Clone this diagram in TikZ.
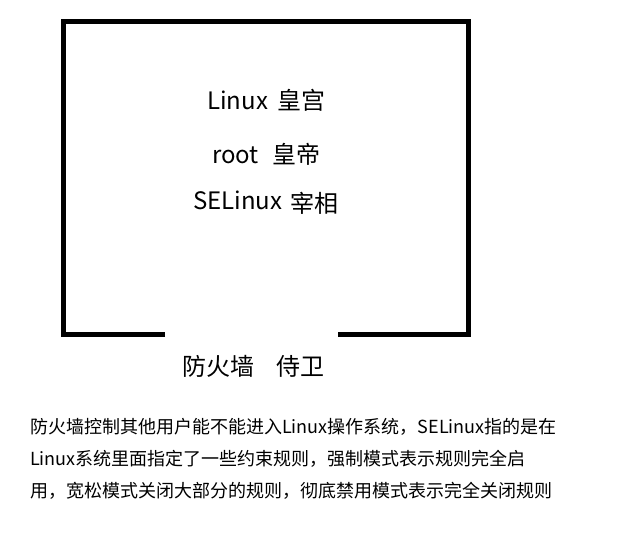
\documentclass[tikz,border=0pt]{standalone}
\usepackage{fontspec}
\setmainfont{Noto Sans CJK SC}
\usepackage{xcolor}
\definecolor{wallblack}{HTML}{000000}
\definecolor{textblack}{HTML}{000000}
\tikzset{
  wall/.style={draw=wallblack,line width=5pt,line join=miter},
  bigtext/.style={anchor=base west,inner sep=0pt,text=textblack,font=\fontsize{24}{28}\selectfont},
  para/.style={anchor=base west,inner sep=0pt,text=textblack,font=\fontsize{18}{22}\selectfont}
}

\begin{document}
\begin{tikzpicture}[x=1pt,y=-1pt]
\useasboundingbox (0,0) rectangle (619,539);
% palace walls, open at the gate
\coordinate (gateL) at (165,334.5); \coordinate (gateR) at (338,334.5);
\draw[wall] (gateL)--(63.5,334.5)--(63.5,21.5)--(468.5,21.5)--(468.5,334.5)--(gateR);
% inside the palace
\node[bigtext] (linux) at (207,109) {Linux};
\node[bigtext] (palace) at (277,109) {皇宫};
\node[bigtext] (root) at (212,163) {root};
\node[bigtext] (emperor) at (272,163) {皇帝};
\node[bigtext] (selinux) at (193,209) {SELinux};
\node[bigtext] (minister) at (290,212) {宰相};
% at the gate
\node[bigtext] (firewall) at (182,375) {防火墙};
\node[bigtext] (guard) at (276,375) {侍卫};
% explanation
\foreach \txt [count=\i] in {{防火墙控制其他用户能不能进入Linux操作系统，SELinux指的是在},
  {Linux系统里面指定了一些约束规则，强制模式表示规则完全启},
  {用，宽松模式关闭大部分的规则，彻底禁用模式表示完全关闭规则}}
  \node[para] (line\i) at (30,{401+32*\i}) {\txt};
\end{tikzpicture}
\end{document}
